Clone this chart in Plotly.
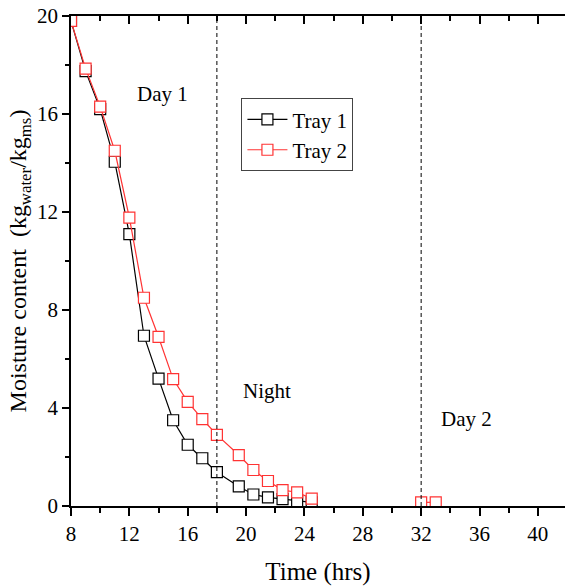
import plotly.graph_objects as go

# ---- data ----
time_hrs = [8, 9, 10, 11, 12, 13, 14, 15, 16, 17, 18, 19.5, 20.5, 21.5, 22.5, 23.5, 24.5]
tray1 = [19.8, 17.75, 16.2, 14.05, 11.1, 6.95, 5.2, 3.5, 2.5, 1.95, 1.38, 0.8, 0.47, 0.35, 0.28, 0.2, 0.15]
tray2_time = time_hrs + [None, 32, 33]
tray2 = [19.8, 17.85, 16.3, 14.5, 11.77, 8.5, 6.9, 5.18, 4.25, 3.55, 2.9, 2.08, 1.47, 1.02, 0.65, 0.56, 0.3,
         None, 0.15, 0.15]
period_starts = [18, 32]
period_labels = ["Day 1", "Night", "Day 2"]
label_x = [14.3, 21.4, 35.1]
label_y = [16.8, 4.7, 3.55]
x_ticks = [8, 12, 16, 20, 24, 28, 32, 36, 40]
y_ticks = [0, 4, 8, 12, 16, 20]

FONT = "Liberation Serif"
RED = "#ff3333"

fig = go.Figure()
fig.add_trace(go.Scatter(
    x=time_hrs, y=tray1, name="Tray 1", mode="lines+markers",
    line=dict(color="black", width=1.2),
    marker=dict(symbol="square", size=11, color="white", line=dict(color="black", width=1.2)),
))
fig.add_trace(go.Scatter(
    x=tray2_time, y=tray2, name="Tray 2", mode="lines+markers",
    line=dict(color=RED, width=1.2),
    marker=dict(symbol="square", size=11, color="white", line=dict(color=RED, width=1.2)),
))
# helper trace for the top (mirrored) axis with inward ticks
fig.add_trace(go.Scatter(x=[None], y=[None], xaxis="x2", showlegend=False, hoverinfo="skip"))

for xs in period_starts:
    fig.add_shape(type="line", x0=xs, x1=xs, y0=0, y1=20, xref="x", yref="y",
                  line=dict(color="black", width=1, dash="4px,3px"))

for t, lx, ly in zip(period_labels, label_x, label_y):
    fig.add_annotation(x=lx, y=ly, text=t, showarrow=False, xref="x", yref="y",
                       font=dict(family=FONT, size=21, color="black"))

xr = [8, 41.86]
fig.update_layout(
    width=565, height=588,
    margin=dict(l=71, r=0, t=16, b=82),
    paper_bgcolor="white", plot_bgcolor="white",
    font=dict(family=FONT, size=20, color="black"),
    showlegend=True,
    legend=dict(x=0.345, y=0.832, xanchor="left", yanchor="top",
                bordercolor="#444", borderwidth=1, bgcolor="white",
                font=dict(family=FONT, size=21), tracegroupgap=0, itemwidth=40),
    xaxis=dict(range=xr, tickvals=x_ticks, showgrid=False, zeroline=False,
               showline=True, linecolor="black", linewidth=1.5,
               ticks="outside", ticklen=8, tickwidth=1.5, tickcolor="black",
               minor=dict(dtick=2, tick0=8, ticks="outside", ticklen=5, tickwidth=1.5, tickcolor="black"),
               title=dict(text="Time (hrs)", standoff=18, font=dict(family=FONT, size=25)),
               tickfont=dict(family=FONT, size=21)),
    xaxis2=dict(range=xr, overlaying="x", side="top", tickvals=x_ticks, showticklabels=False,
                showgrid=False, zeroline=False, showline=True, linecolor="black", linewidth=1.5,
                ticks="inside", ticklen=8, tickwidth=1.5, tickcolor="black",
                minor=dict(dtick=2, tick0=8, ticks="inside", ticklen=5, tickwidth=1.5, tickcolor="black")),
    yaxis=dict(range=[0, 20], tickvals=y_ticks, showgrid=False, zeroline=False,
               showline=True, linecolor="black", linewidth=1.5,
               ticks="outside", ticklen=7, tickwidth=1.5, tickcolor="black",
               minor=dict(dtick=2, tick0=0, ticks="outside", ticklen=4, tickwidth=1.5, tickcolor="black"),
               title=dict(text="Moisture content  (kg<sub>water</sub>/kg<sub>ms</sub>)", standoff=4,
                          font=dict(family=FONT, size=24)),
               tickfont=dict(family=FONT, size=21)),
)

fig.write_html("out.html")
